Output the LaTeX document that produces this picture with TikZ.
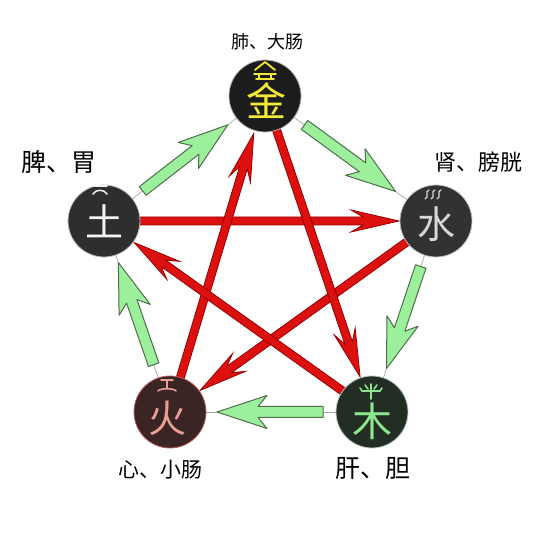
\documentclass[tikz,border=0pt]{standalone}
\usepackage{fontspec}
\newfontfamily\cjk{Noto Sans CJK SC}
\usetikzlibrary{calc}
\definecolor{gfill}{HTML}{9CF09C}
\definecolor{gline}{HTML}{4E6E4E}
\definecolor{rfill}{HTML}{DD1010}
\definecolor{rline}{HTML}{990000}
\definecolor{jinT}{HTML}{F2EA3A}
\definecolor{shuiT}{HTML}{D8D8D8}
\definecolor{tuT}{HTML}{F4F4F4}
\definecolor{huoT}{HTML}{E8A096}
\definecolor{muT}{HTML}{8EE68E}
\newcommand{\blockarr}[7]{%
  \coordinate (ta) at (#1);
  \coordinate (tb) at (#2);
  \coordinate (hp) at ($(tb)!#4!(ta)$);
  \coordinate (hq) at ($(tb)!#6!(ta)$);
  \filldraw[#7] ($(ta)!#3!90:(tb)$) -- ($(hq)!#3!90:(tb)$) -- ($(hp)!#5!90:(tb)$) -- (tb) -- ($(hp)!#5!-90:(tb)$) -- ($(hq)!#3!-90:(tb)$) -- ($(ta)!#3!-90:(tb)$) -- cycle;
}
\tikzset{
  garrow/.style={fill=gfill, draw=gline, line width=1pt, line join=round},
  rarrow/.style={fill=rfill, draw=rline, line width=0.8pt, line join=miter},
  thinline/.style={draw=gray!70, line width=0.7pt},
  elem/.style={circle, minimum size=72pt, inner sep=0pt, line width=0.8pt},
  glyph/.style={inner sep=0pt, font=\cjk\fontsize{38}{38}\selectfont},
  lab/.style={inner sep=0pt, text=black},
  deco/.style={line width=1.8pt, line cap=round, line join=round}
}
\begin{document}
\begin{tikzpicture}[x=1pt, y=-1pt]
\fill[white] (0,0) rectangle (552,534);
\useasboundingbox (0,0) rectangle (552,534);
% centres
\coordinate (jin) at (265,96);
\coordinate (shui) at (436,221);
\coordinate (mu) at (372,412);
\coordinate (huo) at (170,412);
\coordinate (tu) at (104,221);
% thin lines of the generating cycle
\draw[thinline] (jin) -- (shui);
\draw[thinline] (shui) -- (mu);
\draw[thinline] (mu) -- (huo);
\draw[thinline] (huo) -- (tu);
\draw[thinline] (tu) -- (jin);
% red arrows (controlling cycle)
\blockarr{$(tu)!33pt!(shui)$}{$(shui)!37pt!(tu)$}{4pt}{48pt}{11pt}{36pt}{rarrow}
\blockarr{$(shui)!33pt!(huo)$}{$(huo)!37pt!(shui)$}{4pt}{48pt}{11pt}{36pt}{rarrow}
\blockarr{$(huo)!33pt!(jin)$}{$(jin)!39pt!(huo)$}{4pt}{48pt}{11pt}{36pt}{rarrow}
\blockarr{$(jin)!33pt!(mu)$}{$(mu)!37pt!(jin)$}{4pt}{48pt}{11pt}{36pt}{rarrow}
\blockarr{$(mu)!33pt!(tu)$}{$(tu)!37pt!(mu)$}{4pt}{48pt}{11pt}{36pt}{rarrow}
% green arrows (generating cycle)
\blockarr{$(tu)!49pt!(jin)$}{$(jin)!47pt!(tu)$}{5.5pt}{50pt}{16.5pt}{41pt}{garrow}
\blockarr{$(jin)!49pt!(shui)$}{$(shui)!50pt!(jin)$}{5.5pt}{50pt}{16.5pt}{41pt}{garrow}
\blockarr{$(shui)!48pt!(mu)$}{$(mu)!46pt!(shui)$}{5.5pt}{50pt}{16.5pt}{41pt}{garrow}
\blockarr{$(mu)!49pt!(huo)$}{$(huo)!47pt!(mu)$}{5.5pt}{50pt}{16.5pt}{41pt}{garrow}
\blockarr{$(huo)!50pt!(tu)$}{$(tu)!44pt!(huo)$}{5.5pt}{50pt}{16.5pt}{41pt}{garrow}
% circles
\node[elem, fill={rgb,255:red,28;green,28;blue,28}, draw=gray!60] (jinc) at (jin) {};
\node[elem, fill={rgb,255:red,50;green,50;blue,50}, draw=gray!50] (shuic) at (shui) {};
\node[elem, fill={rgb,255:red,46;green,46;blue,46}, draw=gray!50] (tuc) at (tu) {};
\node[elem, fill={rgb,255:red,58;green,36;blue,36}, draw={rgb,255:red,190;green,90;blue,90}] (huoc) at (huo) {};
\node[elem, fill={rgb,255:red,34;green,46;blue,36}, draw=gray!50] (muc) at (mu) {};
% glyphs
\node[glyph, text=jinT, font=\cjk\fontsize{40}{40}\selectfont] (jing) at (266,101) {金};
\node[glyph, text=shuiT] (shuig) at (436,224) {水};
\node[glyph, text=tuT] (tug) at (104,221) {土};
\node[glyph, text=huoT] (huog) at (167,418) {火};
\node[glyph, text=muT, font=\cjk\fontsize{40}{40}\selectfont] (mug) at (372,421) {木};
% small top signs
\draw[deco, jinT] (255,70) -- (265,62) -- (275,70);
\draw[deco, jinT] (254,74) -- (276,74) (259,74) -- (259,78) (271,74) -- (271,78) (256,79) -- (274,79);
\foreach \xx in {427,433,439}{
  \draw[line width=1.3pt, shuiT, line cap=round] (\xx+2,190) .. controls (\xx-3,191) and (\xx+3,197) .. (\xx-2,199);
}
\draw[deco, tuT, line width=1.5pt] (100,183) -- (100,186) (93,186) -- (107,186);
\draw[deco, tuT, line width=1.5pt] (93,194) .. controls (96,189) and (104,189) .. (107,194);
\draw[deco, huoT, line width=1.6pt] (161,380) -- (173,380) (167,380) -- (167,388) (158,391) .. controls (160,388) and (174,388) .. (176,391);
\draw[deco, muT, line width=1.6pt] (360,388) -- (362,391) -- (380,391) -- (382,388) (371,384) -- (371,399) (365,385) -- (368,389) (377,385) -- (374,389);
% labels
\node[lab, font=\cjk\fontsize{18}{18}\selectfont] (ljin) at (267,42) {肺、大肠};
\node[lab, font=\cjk\fontsize{22}{22}\selectfont] (lshui) at (478,162) {肾、膀胱};
\node[lab, font=\cjk\fontsize{25}{25}\selectfont] (ltu) at (59,162) {脾、胃};
\node[lab, font=\cjk\fontsize{21}{21}\selectfont] (lhuo) at (160,470) {心、小肠};
\node[lab, font=\cjk\fontsize{25}{25}\selectfont] (lmu) at (373,468) {肝、胆};
\end{tikzpicture}
\end{document}
